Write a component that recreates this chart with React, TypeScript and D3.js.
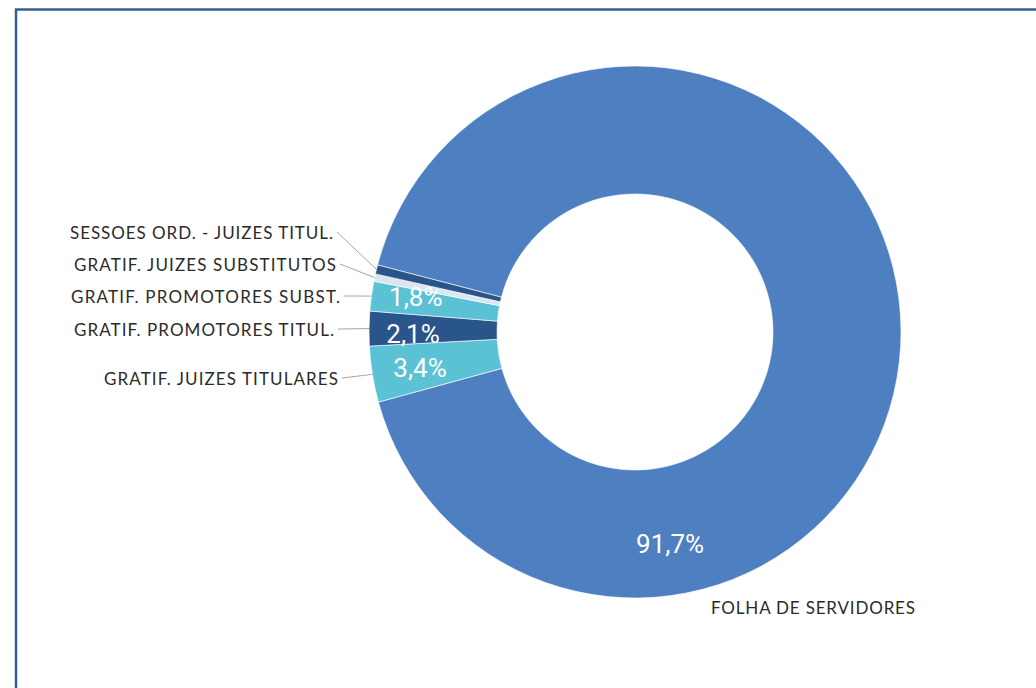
import React from "react";
import * as d3 from "d3";

const categories = [
  "FOLHA DE SERVIDORES",
  "GRATIF. JUIZES TITULARES",
  "GRATIF. PROMOTORES TITUL.",
  "GRATIF. PROMOTORES SUBST.",
  "GRATIF. JUIZES SUBSTITUTOS",
  "SESSOES ORD. - JUIZES TITUL.",
];
const values = [91.7, 3.4, 2.1, 1.8, 0.45, 0.55];
const valueLabels = ["91,7%", "3,4%", "2,1%", "1,8%", "", ""];
const colors = ["#4e7fc1", "#5bc2d5", "#29558a", "#5bc2d5", "#dbe6f3", "#29558a"];

// layout (not data)
const W = 1036;
const H = 688;
const cx = 635;
const cy = 332;
const rOuter = 266;
const rInner = 138;
const startDeg = -75.4;
// value-label placement: [angle deg, radius]
const valuePlace: [number, number][] = [
  [170.6, 215],
  [260.5, 218],
  [269.5, 222],
  [279.0, 222],
  [0, 0],
  [0, 0],
];
// leader start points for outside labels (index into categories), and text widths
const outside = [
  { i: 5, x: 337, y: 232, w: 263 },
  { i: 4, x: 340, y: 264, w: 262 },
  { i: 3, x: 344, y: 296, w: 269 },
  { i: 2, x: 338, y: 329, w: 260 },
  { i: 1, x: 342, y: 378, w: 234 },
];

export default function App() {
  const pie = d3
    .pie<number>()
    .sort(null)
    .value((d) => d)
    .startAngle((startDeg * Math.PI) / 180)
    .endAngle(((startDeg + 360) * Math.PI) / 180);
  const arcs = pie(values);
  const arc = d3.arc<d3.PieArcDatum<number>>().innerRadius(rInner).outerRadius(rOuter);

  const polar = (a: number, r: number) => [r * Math.sin(a), -r * Math.cos(a)];

  return (
    <svg
      width={W}
      height={H}
      style={{ position: "absolute", left: 0, top: 0, background: "#fff" }}
    >
      <rect x={0} y={0} width={W} height={H} fill="#fff" />
      <rect
        x={16}
        y={9.5}
        width={W + 20}
        height={H + 20}
        fill="none"
        stroke="#33618f"
        strokeWidth={2.5}
      />
      <g transform={`translate(${cx},${cy})`}>
        {arcs.map((a, k) => (
          <path key={k} d={arc(a) || ""} fill={colors[k]} stroke="#ffffff" strokeWidth={0.6} />
        ))}
        {arcs.map((a, k) => {
          if (!valueLabels[k]) return null;
          const [deg, r] = valuePlace[k];
          const p = polar((deg * Math.PI) / 180, r);
          return (
            <text
              key={"v" + k}
              x={p[0]}
              y={p[1]}
              textAnchor="middle"
              dominantBaseline="central"
              fill="#ffffff"
              fontFamily="Roboto, sans-serif"
              fontSize={26}
            >
              {valueLabels[k]}
            </text>
          );
        })}
      </g>
      {outside.map((o) => {
        const a = arcs[o.i];
        const mid = (a.startAngle + a.endAngle) / 2;
        const p = polar(mid, rOuter);
        return (
          <g key={"o" + o.i}>
            <line
              x1={o.x}
              y1={o.y}
              x2={cx + p[0]}
              y2={cy + p[1]}
              stroke="#a6a6a6"
              strokeWidth={1}
            />
            <text
              x={o.x - 4 - o.w}
              y={o.y}
              dominantBaseline="central"
              fill="#2b2b2b"
              fontFamily="Lato, sans-serif"
              fontSize={17}
              textLength={o.w}
              lengthAdjust="spacing"
            >
              {categories[o.i]}
            </text>
          </g>
        );
      })}
      <text
        x={711}
        y={607}
        dominantBaseline="central"
        fill="#2b2b2b"
        fontFamily="Lato, sans-serif"
        fontSize={17}
        textLength={204}
        lengthAdjust="spacing"
      >
        {categories[0]}
      </text>
    </svg>
  );
}
